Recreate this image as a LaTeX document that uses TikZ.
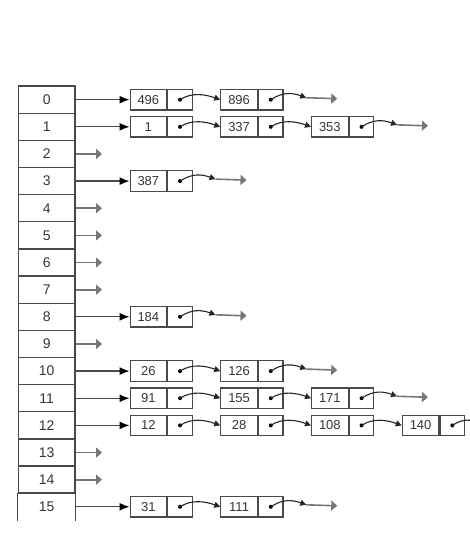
\documentclass[tikz,border=0pt]{standalone}
\usepackage{fontspec}
\setmainfont{Liberation Sans}
\usetikzlibrary{arrows.meta}
\definecolor{ln}{HTML}{4A4A4A}
\definecolor{tx}{HTML}{353535}
\definecolor{gr}{HTML}{777777}
\begin{document}
\begin{tikzpicture}[x=1pt,y=-1pt,
  cell/.style={draw=ln, line width=1.3pt, minimum width=56.5pt, minimum height=27.14pt, inner sep=0pt, font=\fontsize{14}{14}\selectfont, text=tx},
  val/.style={draw=ln, line width=1.2pt, minimum width=36.5pt, minimum height=20.5pt, inner sep=0pt, font=\fontsize{13}{13}\selectfont, text=tx},
  ptr/.style={draw=ln, line width=1.2pt, minimum width=24.5pt, minimum height=20.5pt, inner sep=0pt},
  tab/.style={draw=ln, line width=1.3pt, -{Latex[length=10pt,width=8pt,color=black]}},
  link/.style={draw=black!85, line width=1.1pt, -{Triangle[length=6pt,width=6pt]}},
  nullarr/.style={draw=gr, line width=1.8pt, -{Triangle[length=6pt,width=10pt]}},
  tail/.style={draw=gr, line width=1.6pt, -{Triangle[length=6pt,width=10pt]}}
]
\useasboundingbox (0,0) rectangle (469,538);
% hash table
\foreach \r in {0,...,14} {
  \node[cell] (r\r) at (46.7, {99.7+27.14*\r}) {\r};
}
\node[cell, draw=none] (r15) at (46.7, {99.7+27.14*15}) {15};
\draw[ln, line width=1.3pt] (r15.north west) -- (r15.south west) (r15.north east) -- (r15.south east) (r15.north west) -- (r15.north east);
% list nodes
\foreach \r/\c/\v in {0/0/496, 0/1/896, 1/0/1, 1/1/337, 1/2/353, 3/0/387, 8/0/184,
  10/0/26, 10/1/126, 11/0/91, 11/1/155, 11/2/171, 12/0/12, 12/1/28, 12/2/108, 12/3/140,
  15/0/31, 15/1/111} {
  \node[val, anchor=west] (v\r-\c) at ({129.5+90.75*\c}, {99.7+27.14*\r}) {\v};
  \node[ptr, anchor=west] (p\r-\c) at (v\r-\c.east) {};
  \fill[black] (p\r-\c.center) circle (2pt);
}
% table to first node
\foreach \r in {0,1,3,8,10,11,12,15} {
  \draw[tab] (r\r.east) -- (v\r-0.west);
}
% null pointers
\foreach \r in {2,4,5,6,7,9,13,14} {
  \coordinate (n\r) at (102, {99.7+27.14*\r});
  \draw[nullarr] (r\r.east) -- (n\r);
}
% links between nodes
\foreach \r/\c/\d in {0/0/1, 1/0/1, 1/1/2, 10/0/1, 11/0/1, 11/1/2, 12/0/1, 12/1/2, 12/2/3, 15/0/1} {
  \draw[link] (p\r-\c.center) .. controls +(12,-8) and +(-14,-5) .. (v\r-\d.west);
}
% list ends
\foreach \r/\c in {0/1, 1/2, 3/0, 8/0, 10/1, 11/2, 15/1} {
  \coordinate (t\r) at ({129.5+90.75*\c+86}, {99.7+27.14*\r-2});
  \coordinate (e\r) at ({129.5+90.75*\c+117}, {99.7+27.14*\r-1});
  \draw[link] (p\r-\c.center) .. controls +(12,-8) and +(-14,-5) .. (t\r);
  \draw[tail] (t\r) -- (e\r);
}
% row 12 continues beyond the edge
\coordinate (x12) at (480, {99.7+27.14*12-3});
\draw[draw=black!85, line width=1.1pt] (p12-3.center) .. controls +(12,-8) and +(-8,-2) .. (x12);
\end{tikzpicture}
\end{document}
